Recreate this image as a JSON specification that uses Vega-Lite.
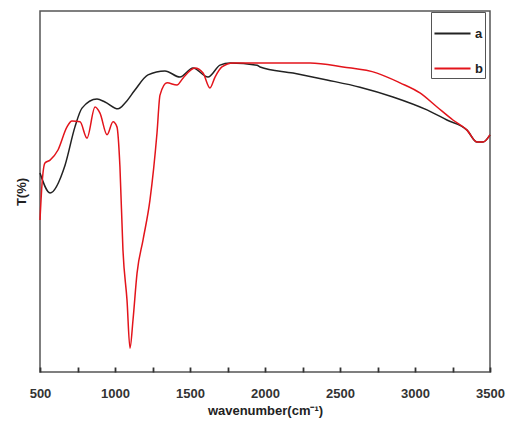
{
  "$schema": "https://vega.github.io/schema/vega-lite/v6.json",
  "autosize": "none",
  "width": 450,
  "height": 361,
  "padding": {"left": 40, "top": 11, "right": 21, "bottom": 50},
  "background": "white",
  "config": {
    "view": {"stroke": "#555", "strokeWidth": 1.5},
    "font": "Liberation Sans"
  },
  "data": {
    "values": [
      {"s": "a", "x": 500, "t": 55.1},
      {"s": "a", "x": 567, "t": 49.6},
      {"s": "a", "x": 667, "t": 57.3},
      {"s": "a", "x": 733, "t": 67.9},
      {"s": "a", "x": 780, "t": 73.1},
      {"s": "a", "x": 880, "t": 75.6},
      {"s": "a", "x": 933, "t": 74.8},
      {"s": "a", "x": 1020, "t": 72.9},
      {"s": "a", "x": 1067, "t": 74.5},
      {"s": "a", "x": 1133, "t": 78.1},
      {"s": "a", "x": 1220, "t": 82.3},
      {"s": "a", "x": 1333, "t": 83.4},
      {"s": "a", "x": 1433, "t": 81.7},
      {"s": "a", "x": 1520, "t": 84.2},
      {"s": "a", "x": 1620, "t": 81.7},
      {"s": "a", "x": 1700, "t": 85.0},
      {"s": "a", "x": 1767, "t": 85.6},
      {"s": "a", "x": 1947, "t": 85.0},
      {"s": "a", "x": 1967, "t": 84.5},
      {"s": "a", "x": 2187, "t": 82.8},
      {"s": "a", "x": 2413, "t": 80.9},
      {"s": "a", "x": 2633, "t": 78.9},
      {"s": "a", "x": 2853, "t": 76.2},
      {"s": "a", "x": 3080, "t": 72.6},
      {"s": "a", "x": 3213, "t": 69.8},
      {"s": "a", "x": 3347, "t": 67.0},
      {"s": "a", "x": 3413, "t": 63.7},
      {"s": "a", "x": 3453, "t": 63.7},
      {"s": "a", "x": 3500, "t": 65.7},
      {"s": "b", "x": 500, "t": 42.1},
      {"s": "b", "x": 513, "t": 51.8},
      {"s": "b", "x": 533, "t": 57.9},
      {"s": "b", "x": 567, "t": 58.7},
      {"s": "b", "x": 620, "t": 61.5},
      {"s": "b", "x": 680, "t": 67.9},
      {"s": "b", "x": 713, "t": 69.5},
      {"s": "b", "x": 767, "t": 69.3},
      {"s": "b", "x": 813, "t": 64.8},
      {"s": "b", "x": 867, "t": 73.4},
      {"s": "b", "x": 900, "t": 71.7},
      {"s": "b", "x": 947, "t": 65.7},
      {"s": "b", "x": 987, "t": 69.3},
      {"s": "b", "x": 1013, "t": 67.9},
      {"s": "b", "x": 1033, "t": 56.8},
      {"s": "b", "x": 1053, "t": 33.8},
      {"s": "b", "x": 1080, "t": 19.9},
      {"s": "b", "x": 1100, "t": 6.6},
      {"s": "b", "x": 1120, "t": 14.4},
      {"s": "b", "x": 1147, "t": 27.4},
      {"s": "b", "x": 1187, "t": 36.6},
      {"s": "b", "x": 1233, "t": 47.6},
      {"s": "b", "x": 1280, "t": 66.2},
      {"s": "b", "x": 1300, "t": 76.7},
      {"s": "b", "x": 1347, "t": 80.1},
      {"s": "b", "x": 1413, "t": 79.5},
      {"s": "b", "x": 1453, "t": 81.4},
      {"s": "b", "x": 1533, "t": 84.2},
      {"s": "b", "x": 1587, "t": 82.8},
      {"s": "b", "x": 1633, "t": 78.7},
      {"s": "b", "x": 1667, "t": 81.7},
      {"s": "b", "x": 1713, "t": 84.5},
      {"s": "b", "x": 1787, "t": 85.6},
      {"s": "b", "x": 1967, "t": 85.6},
      {"s": "b", "x": 2300, "t": 85.6},
      {"s": "b", "x": 2520, "t": 84.5},
      {"s": "b", "x": 2747, "t": 82.8},
      {"s": "b", "x": 2900, "t": 80.1},
      {"s": "b", "x": 3033, "t": 77.3},
      {"s": "b", "x": 3147, "t": 73.4},
      {"s": "b", "x": 3253, "t": 69.8},
      {"s": "b", "x": 3347, "t": 67.0},
      {"s": "b", "x": 3413, "t": 63.7},
      {"s": "b", "x": 3453, "t": 63.7},
      {"s": "b", "x": 3500, "t": 65.7}
    ]
  },
  "mark": {"type": "line", "strokeWidth": 1.5, "interpolate": "monotone"},
  "encoding": {
    "x": {
      "field": "x",
      "type": "quantitative",
      "scale": {"domain": [500, 3500], "nice": false},
      "axis": {
        "orient": "bottom",
        "offset": -5,
        "domain": false,
        "ticks": true,
        "tickSize": 5,
        "tickColor": "#333",
        "tickWidth": 1.8,
        "values": [500, 750, 1000, 1250, 1500, 1750, 2000, 2250, 2500, 2750, 3000, 3250, 3500],
        "labelExpr": "datum.value % 500 === 0 ? datum.label : ''",
        "format": "d",
        "title": "wavenumber(cm⁻¹)",
        "titleFont": "Liberation Sans",
        "titleFontSize": 13,
        "titleFontWeight": "bold",
        "titleColor": "#222",
        "titlePadding": 4,
        "labelFont": "Liberation Sans",
        "labelFontSize": 13,
        "labelFontWeight": "bold",
        "labelColor": "#333",
        "labelPadding": 15,
        "labelFlush": false,
        "grid": false
      }
    },
    "y": {
      "field": "t",
      "type": "quantitative",
      "scale": {"domain": [0, 100], "nice": false},
      "axis": {
        "title": "T(%)",
        "titleFont": "Liberation Sans",
        "titleFontSize": 13,
        "titleFontWeight": "bold",
        "titleColor": "#222",
        "titlePadding": 12,
        "labels": false,
        "ticks": false,
        "grid": false,
        "domain": false
      }
    },
    "color": {
      "field": "s",
      "type": "nominal",
      "scale": {"domain": ["a", "b"], "range": ["#222222", "#e3141b"]},
      "legend": {
        "title": null,
        "orient": "none",
        "legendX": 391,
        "legendY": 1,
        "symbolType": "stroke",
        "symbolSize": 1300,
        "symbolStrokeWidth": 2,
        "labelFont": "Liberation Sans",
        "labelFontSize": 13,
        "labelFontWeight": "bold",
        "labelColor": "#222",
        "labelOffset": 3,
        "rowPadding": 8,
        "padding": 2,
        "strokeColor": "#555",
        "fillColor": "white"
      }
    }
  }
}
